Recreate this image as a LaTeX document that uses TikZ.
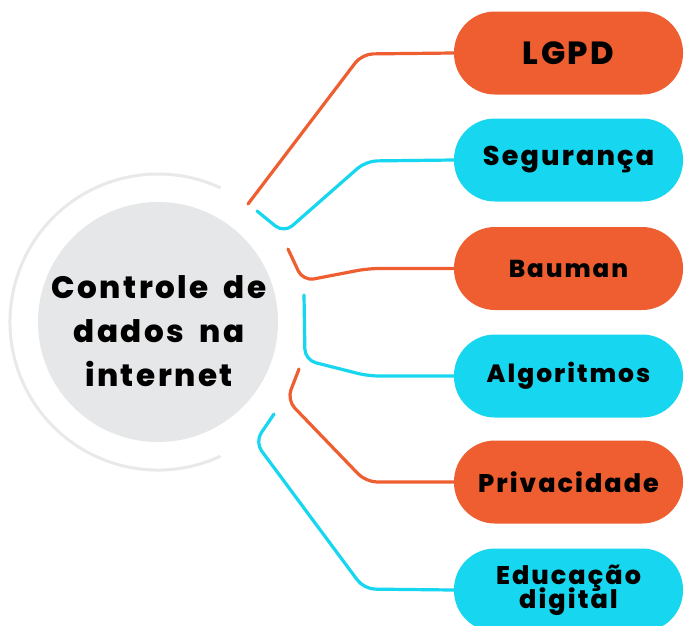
\documentclass[tikz,border=0pt]{standalone}
\usepackage{fontspec}
\setmainfont{Poppins}
\newfontfamily\labfont{Poppins}[LetterSpace=8, WordSpace=1.8, BoldFont={Poppins ExtraBold}]
\definecolor{orng}{HTML}{EF5E30}
\definecolor{cyn}{HTML}{16D7EF}
\definecolor{cgrey}{HTML}{E6E7E8}
\definecolor{agrey}{HTML}{E9E9E9}
\begin{document}
\begin{tikzpicture}[x=1pt,y=-1pt,
  pill/.style={rectangle, rounded corners=41pt, minimum width=229pt, minimum height=83pt, inner sep=0pt, text=black},
  opill/.style={pill, fill=orng},
  cpill/.style={pill, fill=cyn},
  link/.style={line width=3.2pt, line cap=round, rounded corners=11pt},
  olink/.style={link, draw=orng},
  clink/.style={link, draw=cyn}]
\useasboundingbox (0,0) rectangle (684,625);
\fill[white] (0,0) rectangle (684,625);
% centre
\draw[agrey, line width=3pt] (158,322) ++(65:148) arc[start angle=65, end angle=295, radius=148];
\node[circle, fill=cgrey, minimum size=240pt, inner sep=0pt] (hub) at (158,322) {};
\node[align=center, font=\labfont\bfseries\fontsize{31pt}{44pt}\selectfont] (hubtext) at (159,331) {Controle de\\dados na\\internet};
% pills
\node[opill, font=\labfont\bfseries\fontsize{32pt}{30pt}\selectfont] (lgpd) at (568.5,53) {LGPD};
\node[cpill, font=\labfont\bfseries\fontsize{27pt}{30pt}\selectfont] (seg) at (568.5,160) {Segurança};
\node[opill, font=\labfont\bfseries\fontsize{24.5pt}{30pt}\selectfont] (bau) at (568.5,268.5) {Bauman};
\node[cpill, font=\labfont\bfseries\fontsize{25pt}{30pt}\selectfont] (alg) at (568.5,376) {Algoritmos};
\node[opill, font=\labfont\bfseries\fontsize{25.5pt}{30pt}\selectfont] (priv) at (568.5,482) {Privacidade};
\node[cpill, align=center, font=\labfont\bfseries\fontsize{25.5pt}{27pt}\selectfont] (edu) at (568.5,590) {Educação\\[-5pt]digital};
% connector ends
\coordinate (s1) at (248,204);
\coordinate (s2) at (257,211);
\coordinate (s3) at (288,249);
\coordinate (s4) at (304,295);
\coordinate (s5) at (299,369);
\coordinate (s6) at (274,414);
\draw[olink] (s1) -- (362,54) -- (lgpd.west);
\draw[clink] (s2) -- (284,233) -- (366,161) -- (seg.west);
\draw[olink] (s3) -- (303,281) -- (368,268.5) -- (bau.west);
\draw[clink] (s4) -- (305,360) -- (368,376) -- (alg.west);
\draw[olink] (s5) -- (287,400) -- (366,482) -- (priv.west);
\draw[clink] (s6) -- (255,442) -- (364,589) -- (edu.west);
\end{tikzpicture}
\end{document}
